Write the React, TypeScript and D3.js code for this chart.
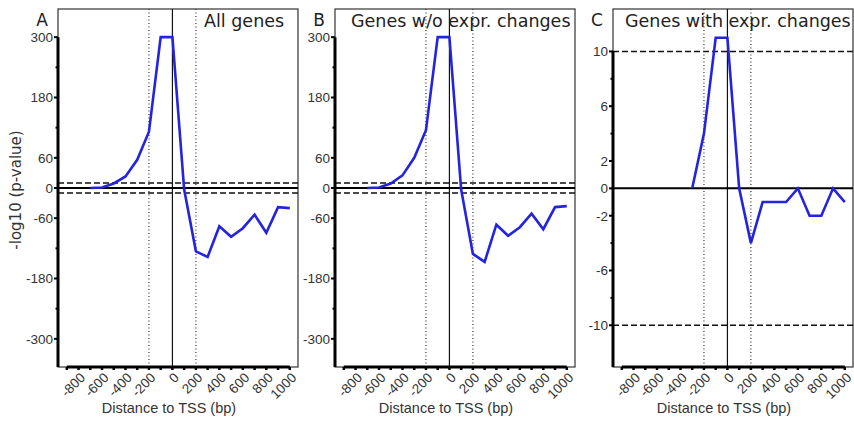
import React from "react";
import * as d3 from "d3";

// distance to TSS (bp) for the sampled points
const posAB = [-700, -600, -500, -400, -300, -200, -100, 0, 100, 200, 300, 400, 500, 600, 700, 800, 900, 1000];
const allGenes = [0, 1, 9, 23, 56, 112, 300, 300, -3, -126, -137, -76, -97, -80, -53, -89, -38, -40];
const noChange = [0, 1, 9, 25, 60, 115, 300, 300, -3, -131, -147, -73, -95, -78, -51, -82, -38, -36];

const posC = [-300, -200, -100, 0, 100, 200, 300, 400, 500, 600, 700, 800, 900, 1000];
const withChange = [0, 4, 11, 11, 0, -4, -1, -1, -1, 0, -2, -2, 0, -1];

const xTickLabels = [-800, -600, -400, -200, 0, 200, 400, 600, 800, 1000];
const xMinorTicks = [-900, -800, -700, -600, -500, -400, -300, -200, -100, 0, 100, 200, 300, 400, 500, 600, 700, 800, 900, 1000];

const yTicksAB = [-300, -180, -60, 0, 60, 180, 300];
const yMinorAB = [-240, -120, 120, 240];
const yTicksC = [-10, -6, -2, 0, 2, 6, 10];
const yMinorC = [-8, -4, 4, 8];

const thresholdAB = [10, -10];
const thresholdC = [10, -10];
const regionLines = [-200, 200];

const top = 9;
const bottom = 367;
const boxW = 240;
const blue = "#2424de";
const tickFont = "'Liberation Sans', Arial, sans-serif";
const titleFont = "'DejaVu Sans', sans-serif";

type PanelProps = {
  left: number;
  letter: string;
  title: string;
  titleDx: number;
  xs: number[];
  ys: number[];
  yDomain: [number, number];
  yTicks: number[];
  yMinor: number[];
  thresholds: number[];
  yLabel?: boolean;
};

function Panel(p: PanelProps) {
  const x = d3.scaleLinear().domain([-975, 1070]).range([p.left, p.left + boxW]);
  const y = d3.scaleLinear().domain(p.yDomain).range([bottom, top]);
  const right = p.left + boxW;
  const line = d3.line<number>()
    .x((d, i) => x(p.xs[i]))
    .y(d => y(d));
  const topTick = d3.max(p.yTicks) as number;

  return (
    <g>
      <rect x={p.left} y={top} width={boxW} height={bottom - top} fill="none" stroke="#333" strokeWidth={1.2} />
      {p.thresholds.map((t, i) => (
        <line key={"th" + i} x1={p.left} x2={right} y1={y(t)} y2={y(t)} stroke="#111" strokeWidth={1.4} strokeDasharray="6,3" />
      ))}
      {regionLines.map((v, i) => (
        <line key={"rg" + i} x1={x(v)} x2={x(v)} y1={top} y2={bottom} stroke="#333" strokeWidth={1.2} strokeDasharray="1,2.5" />
      ))}
      <line x1={x(0)} x2={x(0)} y1={top} y2={bottom} stroke="#111" strokeWidth={1.2} />
      <line x1={p.left} x2={right} y1={y(0)} y2={y(0)} stroke="#000" strokeWidth={2} />
      <path d={line(p.ys) || ""} fill="none" stroke={blue} strokeWidth={2.6} strokeLinejoin="miter" />

      {/* y axis */}
      <line x1={p.left} x2={p.left} y1={y(topTick)} y2={bottom} stroke="#000" strokeWidth={3} />
      {p.yTicks.map(t => (
        <g key={"yt" + t}>
          <line x1={p.left - 4} x2={p.left} y1={y(t)} y2={y(t)} stroke="#000" strokeWidth={2} />
          <text x={p.left - 5} y={y(t)} dy="0.36em" textAnchor="end" fontFamily={tickFont} fontSize={13.5} fill="#333">{t}</text>
        </g>
      ))}
      {p.yMinor.map(t => (
        <line key={"ym" + t} x1={p.left - 2.5} x2={p.left} y1={y(t)} y2={y(t)} stroke="#000" strokeWidth={2} />
      ))}

      {/* x axis */}
      <line x1={x(-900)} x2={x(1000)} y1={bottom} y2={bottom} stroke="#000" strokeWidth={3} />
      {xMinorTicks.map(t => (
        <line key={"xm" + t} x1={x(t)} x2={x(t)} y1={bottom} y2={bottom + 3} stroke="#000" strokeWidth={2.5} />
      ))}
      {xTickLabels.map(t => (
        <text key={"xl" + t} transform={`translate(${x(t) + 4},${bottom + 8}) rotate(-45)`} dy="0.36em" textAnchor="end" fontFamily={tickFont} fontSize={13.5} fill="#333">{t}</text>
      ))}
      <text x={p.left + 111} y={413} textAnchor="middle" fontFamily={tickFont} fontSize={14.5} fill="#333">Distance to TSS (bp)</text>

      <text x={p.left - 16} y={26} textAnchor="middle" fontFamily={titleFont} fontSize={17} fill="#222">{p.letter}</text>
      <text x={p.left + p.titleDx} y={26.5} fontFamily={titleFont} fontSize={17.5} fill="#222">{p.title}</text>
      {p.yLabel && (
        <text transform={`translate(21,190) rotate(-90)`} textAnchor="middle" fontFamily={titleFont} fontSize={15} fill="#333">-log10 (p-value)</text>
      )}
    </g>
  );
}

export default function App() {
  return (
    <svg width={854} height={421} style={{ display: "block", position: "absolute", left: 0, top: 0, background: "#fff" }}>
      <Panel left={58} letter="A" title="All genes" titleDx={146} xs={posAB} ys={allGenes}
        yDomain={[-356, 356]} yTicks={yTicksAB} yMinor={yMinorAB} thresholds={thresholdAB} yLabel />
      <Panel left={335} letter="B" title="Genes w/o expr. changes" titleDx={16} xs={posAB} ys={noChange}
        yDomain={[-356, 356]} yTicks={yTicksAB} yMinor={yMinorAB} thresholds={thresholdAB} />
      <Panel left={613} letter="C" title="Genes with expr. changes" titleDx={12} xs={posC} ys={withChange}
        yDomain={[-13.05, 13.1]} yTicks={yTicksC} yMinor={yMinorC} thresholds={thresholdC} />
    </svg>
  );
}
